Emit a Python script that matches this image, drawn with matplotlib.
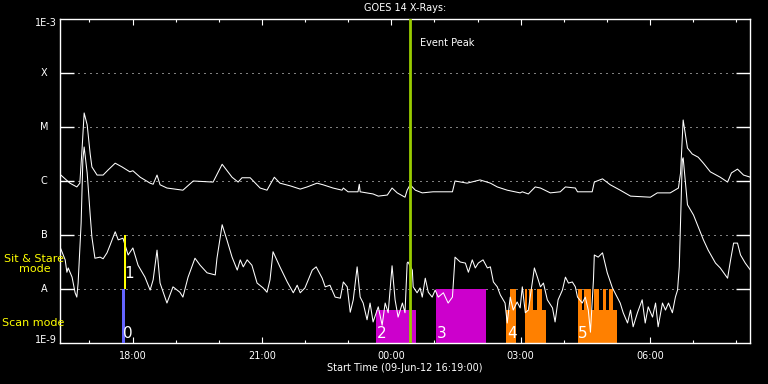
import numpy as np
import matplotlib
matplotlib.use('Agg')
import matplotlib.pyplot as plt
from matplotlib.ticker import FixedLocator, FuncFormatter, NullLocator

START_MIN = 16 * 60 + 19          # 09-Jun-12 16:19:00
SPAN_H = 16.0

# GOES 14 long channel: hours after start, log10 flux
long_t = [0.02, 0.23, 0.39, 0.46, 0.51, 0.56, 0.63, 0.70, 0.74, 0.86, 1.00, 1.11, 1.28, 1.44,
          1.62, 1.69, 1.86, 2.09, 2.16, 2.25, 2.32, 2.48, 2.85, 3.09, 3.55, 3.76, 3.99, 4.13,
          4.22, 4.41, 4.64, 4.80, 4.87, 4.97, 5.10, 5.34, 5.57, 5.73, 5.96, 6.10, 6.33, 6.54,
          6.57, 6.68, 6.91, 6.94, 6.96, 7.26, 7.38, 7.59, 7.70, 7.82, 8.00, 8.05, 8.12, 8.24,
          8.40, 8.65, 9.10, 9.16, 9.44, 9.74, 9.98, 10.14, 10.37, 10.67, 10.72, 10.86, 11.02,
          11.14, 11.37, 11.60, 11.72, 11.95, 12.00, 12.34, 12.39, 12.58, 12.76, 12.99, 13.23,
          13.69, 13.85, 14.15, 14.34, 14.39, 14.45, 14.55, 14.66, 14.80, 14.92, 15.08, 15.31,
          15.48, 15.57, 15.71, 15.85, 16.01]
long_lg = [-5.89, -6.04, -6.11, -6.04, -5.43, -4.74, -4.96, -5.50, -5.74, -5.89, -5.89, -5.80,
           -5.67, -5.74, -5.83, -5.81, -5.93, -6.04, -6.06, -5.89, -6.07, -6.13, -6.17, -6.00,
           -6.02, -5.69, -5.93, -6.02, -5.94, -5.94, -6.13, -6.17, -6.07, -5.93, -6.04, -6.09,
           -6.15, -6.11, -6.04, -6.07, -6.13, -6.17, -6.13, -6.20, -6.20, -6.06, -6.20, -6.24,
           -6.28, -6.26, -6.13, -6.22, -6.30, -6.17, -6.07, -6.17, -6.22, -6.20, -6.20, -6.00,
           -6.04, -5.98, -6.04, -6.11, -6.17, -6.22, -6.20, -6.24, -6.11, -6.13, -6.22, -6.20,
           -6.11, -6.13, -6.20, -6.20, -6.02, -5.96, -6.07, -6.17, -6.28, -6.30, -6.22, -6.22,
           -6.13, -5.85, -4.87, -5.39, -5.50, -5.56, -5.67, -5.83, -5.93, -6.02, -5.85, -5.78,
           -5.89, -5.93]

# GOES 14 short channel
short_t = [0.00, 0.12, 0.16, 0.19, 0.28, 0.35, 0.39, 0.42, 0.49, 0.53, 0.56, 0.63, 0.70, 0.74,
           0.81, 0.93, 1.00, 1.09, 1.16, 1.28, 1.35, 1.46, 1.58, 1.69, 1.81, 1.97, 2.09, 2.16,
           2.25, 2.32, 2.48, 2.62, 2.78, 2.85, 2.97, 3.13, 3.25, 3.41, 3.60, 3.64, 3.76, 3.87,
           3.99, 4.11, 4.18, 4.25, 4.34, 4.45, 4.57, 4.71, 4.80, 4.87, 4.94, 5.10, 5.27, 5.41,
           5.50, 5.57, 5.68, 5.85, 5.94, 6.08, 6.15, 6.26, 6.38, 6.50, 6.57, 6.66, 6.73, 6.80,
           6.89, 6.96, 7.03, 7.12, 7.19, 7.26, 7.38, 7.47, 7.54, 7.61, 7.70, 7.77, 7.84, 7.94,
           8.00, 8.05, 8.07, 8.17, 8.19, 8.28, 8.35, 8.40, 8.47, 8.54, 8.63, 8.70, 8.77, 8.89,
           9.00, 9.10, 9.16, 9.28, 9.40, 9.47, 9.56, 9.63, 9.70, 9.81, 9.91, 9.98, 10.05, 10.14,
           10.21, 10.32, 10.37, 10.44, 10.51, 10.60, 10.67, 10.72, 10.79, 10.86, 10.95, 11.00,
           11.07, 11.14, 11.21, 11.30, 11.42, 11.48, 11.55, 11.65, 11.72, 11.79, 11.88, 11.95,
           12.00, 12.11, 12.18, 12.25, 12.30, 12.37, 12.39, 12.48, 12.58, 12.69, 12.81, 12.92,
           12.99, 13.06, 13.16, 13.23, 13.29, 13.39, 13.50, 13.57, 13.64, 13.74, 13.81, 13.87,
           13.97, 14.04, 14.11, 14.20, 14.27, 14.32, 14.36, 14.41, 14.43, 14.45, 14.55, 14.69,
           14.80, 14.92, 15.03, 15.20, 15.31, 15.48, 15.55, 15.62, 15.71, 15.78, 15.89, 16.01]
short_lg = [-7.22, -7.46, -7.69, -7.61, -7.78, -8.07, -8.15, -7.89, -6.78, -5.61, -5.37, -5.85,
            -6.63, -7.04, -7.43, -7.41, -7.44, -7.33, -7.19, -6.94, -7.09, -7.06, -7.37, -7.24,
            -7.56, -7.78, -8.02, -7.83, -7.28, -7.89, -8.26, -7.96, -8.06, -8.15, -7.78, -7.43,
            -7.56, -7.70, -7.74, -7.43, -6.81, -7.09, -7.41, -7.65, -7.46, -7.59, -7.46, -7.56,
            -7.89, -7.98, -8.06, -7.83, -7.31, -7.59, -7.87, -8.07, -7.93, -8.07, -7.98, -7.65,
            -7.59, -7.80, -7.96, -7.93, -8.15, -8.17, -7.87, -7.96, -8.43, -8.20, -7.59, -8.15,
            -8.26, -8.57, -8.26, -8.61, -8.33, -8.67, -8.26, -8.44, -7.57, -8.20, -8.52, -8.26,
            -8.44, -7.52, -7.50, -7.65, -7.96, -8.07, -7.98, -8.15, -7.80, -8.06, -8.15, -8.02,
            -8.15, -8.07, -8.26, -8.15, -7.41, -7.50, -7.52, -7.69, -7.46, -7.61, -7.52, -7.46,
            -7.61, -7.59, -7.87, -7.96, -8.11, -8.26, -8.63, -8.15, -8.39, -8.24, -8.35, -7.96,
            -8.44, -8.39, -7.89, -7.61, -7.78, -7.96, -7.89, -8.20, -8.35, -8.61, -8.20, -8.02,
            -7.78, -7.89, -7.87, -7.96, -8.15, -8.26, -8.15, -8.39, -8.80, -7.83, -7.37, -7.41,
            -7.33, -7.70, -7.98, -8.15, -8.26, -8.44, -8.63, -8.39, -8.70, -8.44, -8.20, -8.63,
            -8.33, -8.52, -8.26, -8.70, -8.26, -8.39, -8.26, -8.44, -8.15, -8.02, -7.59, -6.17,
            -5.61, -5.57, -6.44, -6.63, -6.85, -7.09, -7.28, -7.52, -7.61, -7.80, -7.46, -7.15,
            -7.15, -7.37, -7.52, -7.65]

level_names = ['A', 'B', 'C', 'M', 'X']
level_flux = [1e-8, 1e-7, 1e-6, 1e-5, 1e-4]

# observing mode blocks
mode_id = [0, 1, 2, 3, 4, 4, 4, 4, 4, 4, 5, 5, 5, 5, 5, 5]
mode_start = [1.44, 1.48, 7.33, 8.72, 10.35, 10.44, 10.79, 10.79, 10.88, 11.07,
              12.00, 12.00, 12.16, 12.39, 12.58, 12.74]
mode_end = [1.51, 1.53, 8.26, 9.88, 10.44, 10.58, 11.28, 10.84, 10.97, 11.18,
            12.92, 12.11, 12.32, 12.51, 12.67, 12.83]
mode_bottom = [1e-9, 1e-8] + [1e-9] * 14
mode_top = [1e-8, 1e-7, 4.1e-9, 1e-8, 4.1e-9, 1e-8, 4.1e-9, 1e-8, 1e-8, 1e-8,
            4.1e-9, 1e-8, 1e-8, 1e-8, 1e-8, 1e-8]
mode_colors = ['#6464ff', '#ffff00', '#cc00cc', '#cc00cc', '#ff8000', '#ff8000']

event_t = 8.12

plt.rcParams['font.family'] = 'DejaVu Sans'
fig = plt.figure(figsize=(7.68, 3.84), dpi=100, facecolor='black')
ax = fig.add_axes([60 / 768, 41 / 384, 690 / 768, 324 / 384])
ax.set_facecolor('black')
ax.set_yscale('log')
ax.set_ylim(1e-9, 1e-3)
ax.set_xlim(0, SPAN_H)

for f in level_flux:
    ax.axhline(f, color='white', lw=0.72, ls=(0, (1, 5)), zorder=0.5)

for i, s, e, b, t in zip(mode_id, mode_start, mode_end, mode_bottom, mode_top):
    ax.bar(s, t - b, bottom=b, width=e - s, align='edge', color=mode_colors[i],
           linewidth=0, zorder=2)

ax.plot(long_t, 10 ** np.array(long_lg), color='white', lw=0.75, zorder=3)
ax.plot(short_t, 10 ** np.array(short_lg), color='white', lw=0.75, zorder=3)

# yellow / blue markers on top
for i, s, e, b, t in zip(mode_id, mode_start, mode_end, mode_bottom, mode_top):
    if i < 2:
        ax.bar(s, t - b, bottom=b, width=e - s, align='edge', color=mode_colors[i],
               linewidth=0, zorder=4)

seen = set()
for i, s, b in zip(mode_id, mode_start, mode_bottom):
    if i in seen:
        continue
    seen.add(i)
    lift = 8 if b > 1e-9 else 3.6
    ax.annotate(str(i), xy=(s, b), xytext=(0.5, lift), textcoords='offset points',
                va='baseline', ha='left', color='white', fontsize=11, zorder=6)

ax.axvline(event_t, color='#99cc00', lw=2, zorder=5)
ax.annotate('Event Peak', xy=(event_t, 1), xycoords=('data', 'axes fraction'),
            xytext=(7, -17), textcoords='offset points', ha='left', va='center',
            color='white', fontsize=7)

# axes styling
for sp in ax.spines.values():
    sp.set_color('white')
    sp.set_linewidth(1)

first_major = (18 * 60 - START_MIN) / 60
ax.xaxis.set_major_locator(FixedLocator(np.arange(first_major, SPAN_H, 3)))
ax.xaxis.set_minor_locator(FixedLocator(np.arange(first_major - 1, SPAN_H, 1)))


def clock(h, pos):
    m = int(round(START_MIN + h * 60)) % 1440
    return f'{m // 60:02d}:{m % 60:02d}'


ax.xaxis.set_major_formatter(FuncFormatter(clock))
ax.tick_params(axis='x', which='both', direction='in', top=True, colors='white',
               labelsize=7, pad=6, width=0.8)
ax.tick_params(axis='x', which='major', length=4.3)
ax.tick_params(axis='x', which='minor', length=2.2)

ax.yaxis.set_major_locator(FixedLocator(level_flux))
ax.yaxis.set_minor_locator(NullLocator())
ax.tick_params(axis='y', which='major', direction='in', left=True, right=True,
               length=10, width=1, colors='white', labelleft=False)

ytr = ax.get_yaxis_transform()
for name, f in zip(level_names, level_flux):
    ax.text(-16 / 690, f, name, transform=ytr, ha='center', va='center',
            color='white', fontsize=7)
ax.text(-3 / 690, 10 ** -3.07, '1E-3', transform=ytr, ha='right', va='center',
        color='white', fontsize=7)
ax.text(-3 / 690, 10 ** -8.95, '1E-9', transform=ytr, ha='right', va='center',
        color='white', fontsize=7)

fig.text(405 / 768, 1 - 8 / 384, 'GOES 14 X-Rays:', ha='center', va='center',
         color='white', fontsize=7)
fig.text(405 / 768, 1 - 368 / 384, 'Start Time (09-Jun-12 16:19:00)', ha='center',
         va='center', color='white', fontsize=7)
fig.text(34.5 / 768, 1 - 264 / 384, 'Sit & Stare\nmode', ha='center', va='center',
         multialignment='center', color='#ffff00', fontsize=8, linespacing=1.1)
fig.text(2 / 768, 1 - 323.5 / 384, 'Scan mode', ha='left', va='center',
         color='#ffff00', fontsize=8)

fig.savefig('out.png', dpi=100, facecolor='black')
